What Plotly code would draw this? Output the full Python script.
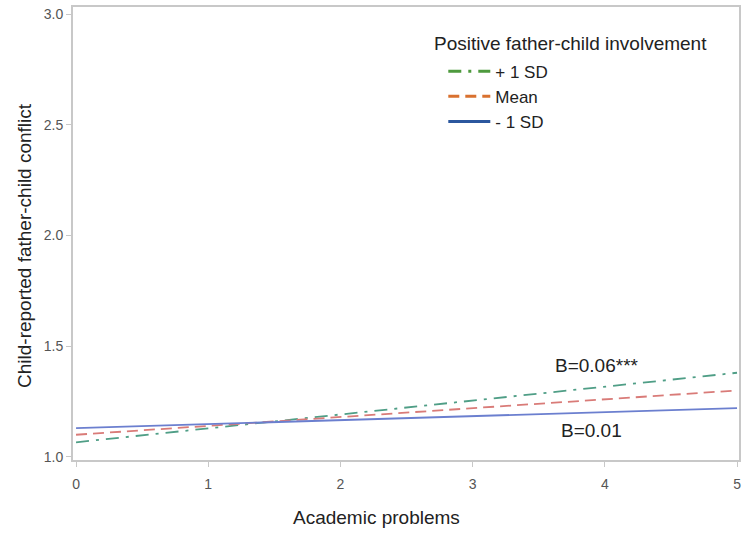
import plotly.graph_objects as go

# Data
x_vals = [0, 5]
plus1sd = [1.066, 1.38]
mean_vals = [1.10, 1.30]
minus1sd = [1.13, 1.22]
series_names = ["+ 1 SD", "Mean", "- 1 SD"]
legend_title = "Positive father-child involvement"
x_ticks = [0, 1, 2, 3, 4, 5]
y_ticks = [1.0, 1.5, 2.0, 2.5, 3.0]
ann_texts = ["B=0.06***", "B=0.01"]
ann_x = [3.94, 3.9]
ann_y = [1.415, 1.117]

FONT = "Liberation Sans, Arial, sans-serif"
TXT = "#222222"

line_colors = ["#4f9e86", "#d97b78", "#6b7fcf"]
legend_colors = ["#4e9a3e", "#d9712f", "#2b579e"]
dashes = ["13px,7px,3px,7px", "11px,6px", "solid"]
series = [plus1sd, mean_vals, minus1sd]

fig = go.Figure()
for name, ys, c, d in zip(series_names, series, line_colors, dashes):
    fig.add_trace(go.Scatter(x=x_vals, y=ys, mode="lines", name=name, showlegend=False,
                             line=dict(color=c, width=1.8, dash=d)))
# legend entries (no data of their own, shown only in the legend)
for name, c, d in zip(series_names, legend_colors, dashes):
    fig.add_trace(go.Scatter(x=[None], y=[None], mode="lines", name=name,
                             line=dict(color=c, width=3, dash=d)))

for t, ax_, ay_ in zip(ann_texts, ann_x, ann_y):
    fig.add_annotation(x=ax_, y=ay_, text=t, showarrow=False,
                       font=dict(family=FONT, size=19, color=TXT))

# x-axis title
fig.add_annotation(xref="paper", yref="paper", x=0.456, y=-0.1274, yanchor="middle",
                   text="Academic problems", showarrow=False,
                   font=dict(family=FONT, size=19, color=TXT))
# y-axis title
fig.add_annotation(xref="paper", yref="paper", x=-0.0736, y=0.4746, xanchor="center",
                   yanchor="middle", textangle=-90,
                   text="Child-reported father-child conflict", showarrow=False,
                   font=dict(family=FONT, size=19, color=TXT))
# legend title
fig.add_annotation(xref="paper", yref="paper", x=0.539, y=0.9205, xanchor="left",
                   yanchor="middle", text=legend_title, showarrow=False,
                   font=dict(family=FONT, size=19, color=TXT))

axis_common = dict(showline=True, linecolor="#c8c8c8", linewidth=2, mirror=True,
                   ticks="outside", tickcolor="#c8c8c8", ticklen=5, tickwidth=1,
                   showgrid=False, zeroline=False, automargin=False,
                   tickfont=dict(family=FONT, size=14, color="#555555"))

fig.update_layout(
    width=750, height=533,
    margin=dict(l=73, r=11, t=7, b=73),
    paper_bgcolor="white", plot_bgcolor="white",
    font=dict(family=FONT),
    xaxis=dict(range=[-0.023, 5.015], tickvals=x_ticks, ticklabelstandoff=5,
               **axis_common),
    yaxis=dict(range=[0.986, 3.0316], tickvals=y_ticks, tickformat=".1f",
               **axis_common),
    legend=dict(x=0.556, y=0.897, xanchor="left", yanchor="top",
                bgcolor="rgba(0,0,0,0)",
                font=dict(family=FONT, size=17, color=TXT),
                tracegroupgap=0, itemwidth=42),
    showlegend=True,
)

fig.write_html("out.html", config={"displayModeBar": False},
               post_script="document.body.style.margin='0';document.body.style.padding='0';")
